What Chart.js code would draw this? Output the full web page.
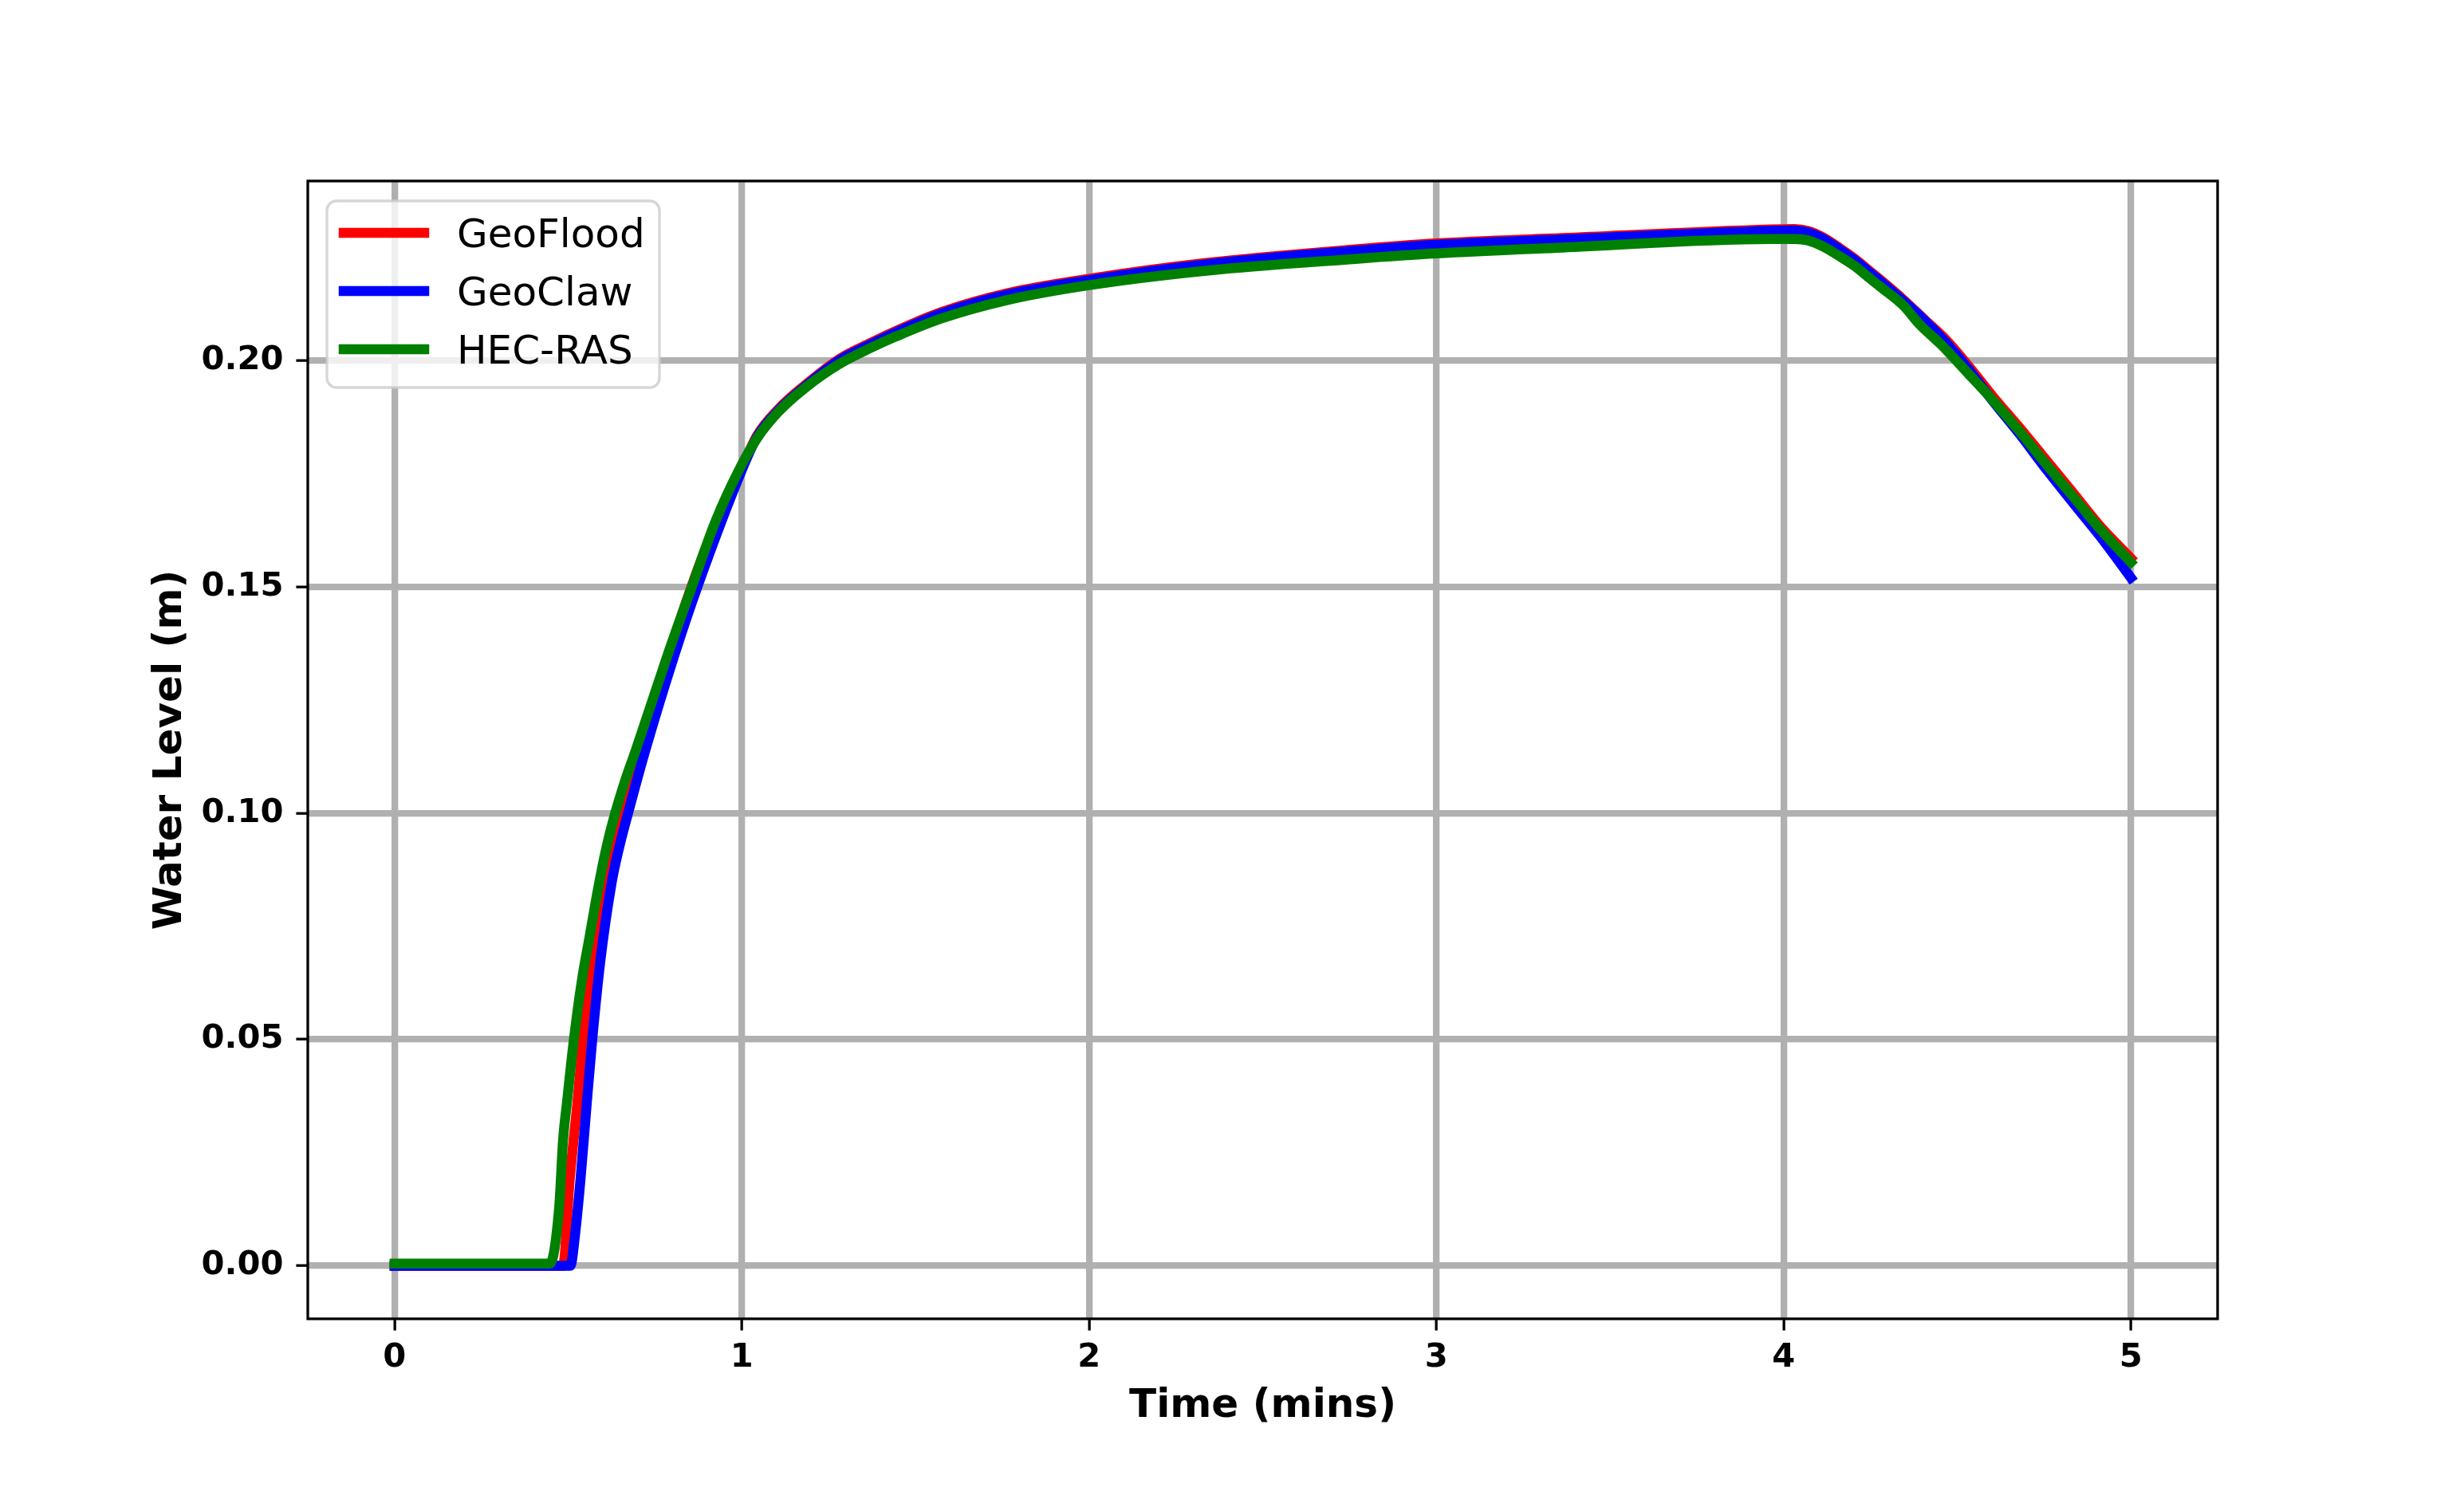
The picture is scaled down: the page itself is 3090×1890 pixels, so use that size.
<!DOCTYPE html>
<html>
<head>
<meta charset="utf-8">
<script src="https://cdn.jsdelivr.net/npm/chart.js@4.4.0/dist/chart.umd.min.js"></script>
<style>
  html, body { margin: 0; padding: 0; background: #fff; }
  canvas { display: block; }
</style>
</head>
<body>
<canvas id="myChart" width="3090" height="1890"></canvas>
<script>
// series names + colours
var seriesNames = ['GeoFlood', 'GeoClaw', 'HEC-RAS'];
var seriesColors = ['#ff0000', '#0000ff', '#008000'];

// GeoFlood
var timeGeoFlood = [0, 0.485, 0.504, 0.527, 0.5425, 0.5655, 0.607, 0.6497, 0.70, 0.79, 0.855, 0.925, 1.0, 1.044, 1.105, 1.182, 1.281, 1.373, 1.442, 1.573, 1.764, 2.0, 2.338, 2.767, 3.0, 3.364, 3.962, 4.031, 4.069, 4.115, 4.161, 4.207, 4.245, 4.283, 4.345, 4.406, 4.467, 4.528, 4.605, 4.681, 4.758, 4.835, 4.911, 5.0];
var levelGeoFlood = [0, 0, 0.0188, 0.0365, 0.05, 0.067, 0.0846, 0.10, 0.114, 0.1352, 0.15, 0.1640, 0.1762, 0.1834, 0.1892, 0.1945, 0.2003, 0.2039, 0.2064, 0.2106, 0.2148, 0.2180, 0.2215, 0.2245, 0.2258, 0.2270, 0.2289, 0.2290, 0.2286, 0.2271, 0.2248, 0.2223, 0.2199, 0.2175, 0.2134, 0.2090, 0.2046, 0.1992, 0.1918, 0.1850, 0.1778, 0.1706, 0.1634, 0.1563];

// GeoClaw
var timeGeoClaw = [0, 0.506, 0.520, 0.535, 0.554, 0.569, 0.592, 0.625, 0.647, 0.672, 0.7225, 0.807, 0.872, 1.0, 1.044, 1.105, 1.182, 1.281, 1.373, 1.442, 1.573, 1.764, 2.0, 2.338, 2.767, 3.0, 3.364, 3.962, 4.031, 4.069, 4.115, 4.161, 4.207, 4.245, 4.283, 4.345, 4.406, 4.467, 4.528, 4.605, 4.681, 4.758, 4.835, 4.911, 4.957, 5.0];
var levelGeoClaw = [0, 0, 0.0071, 0.0188, 0.0365, 0.0498, 0.067, 0.0846, 0.0925, 0.0999, 0.114, 0.1352, 0.1500, 0.1758, 0.1831, 0.1889, 0.1942, 0.2000, 0.2036, 0.2061, 0.2103, 0.2145, 0.2177, 0.2212, 0.2242, 0.2255, 0.2267, 0.2286, 0.2287, 0.2283, 0.2268, 0.2245, 0.2220, 0.2196, 0.2172, 0.2131, 0.2088, 0.2040, 0.1985, 0.1908, 0.1836, 0.1758, 0.1684, 0.1612, 0.1565, 0.1520];

// HEC-RAS
var timeHecRas = [0, 0.447, 0.474, 0.485, 0.497, 0.516, 0.539, 0.562, 0.585, 0.608, 0.635, 0.661, 0.695, 0.7875, 0.856, 0.925, 0.990, 1.044, 1.105, 1.182, 1.281, 1.373, 1.442, 1.573, 1.764, 2.0, 2.338, 2.767, 3.0, 3.364, 3.962, 4.031, 4.069, 4.115, 4.161, 4.207, 4.245, 4.283, 4.345, 4.391, 4.452, 4.528, 4.605, 4.681, 4.758, 4.835, 4.911, 5.0];
var levelHecRas = [0.0005, 0.0005, 0.013, 0.0276, 0.0365, 0.0498, 0.0629, 0.0729, 0.0829, 0.0917, 0.0999, 0.1065, 0.1140, 0.1352, 0.1500, 0.1646, 0.1755, 0.1828, 0.1886, 0.1939, 0.1992, 0.2028, 0.2052, 0.2092, 0.2133, 0.2166, 0.2198, 0.2224, 0.2236, 0.2249, 0.2268, 0.2268, 0.2265, 0.2251, 0.2230, 0.2207, 0.2183, 0.2160, 0.2121, 0.2080, 0.2036, 0.1974, 0.1910, 0.1842, 0.1769, 0.1698, 0.1628, 0.1554];

// tick labels
var xTicks = [0, 1, 2, 3, 4, 5];
var yTicks = [0.00, 0.05, 0.10, 0.15, 0.20];

function toPoints(ts, vs) {
    return ts.map(function (t, i) { return { x: t, y: vs[i] }; });
}

var allTimes = [timeGeoFlood, timeGeoClaw, timeHecRas];
var allLevels = [levelGeoFlood, levelGeoClaw, levelHecRas];

var datasets = seriesNames.map(function (name, i) {
    return {
        label: name,
        data: toPoints(allTimes[i], allLevels[i]),
        borderColor: seriesColors[i],
        backgroundColor: seriesColors[i],
        borderWidth: 12.5,
        borderJoinStyle: 'round',
        borderCapStyle: 'square',
        pointRadius: 0,
        cubicInterpolationMode: 'monotone',
        fill: false,
        order: 3 - i
    };
});

var tickFont = { family: 'DejaVu Sans', size: 41.67, weight: 'bold' };
var titleFont = { family: 'DejaVu Sans', size: 50, weight: 'bold' };

// frame (all four spines) like matplotlib
var framePlugin = {
    id: 'frame',
    afterDatasetsDraw: function (chart) {
        var a = chart.chartArea, c = chart.ctx;
        c.save();
        c.strokeStyle = '#000';
        c.lineWidth = 3.3;
        c.strokeRect(a.left, a.top, a.right - a.left, a.bottom - a.top);
        c.restore();
    }
};

// legend box inside the axes, upper left
var boxLegend = {
    id: 'boxLegend',
    afterDraw: function (chart) {
        var c = chart.ctx;
        var x = 410, y = 252, w = 417, h = 234, r = 12;
        c.save();
        c.beginPath();
        c.roundRect(x, y, w, h, r);
        c.fillStyle = 'rgba(255,255,255,0.8)';
        c.fill();
        c.strokeStyle = 'rgba(204,204,204,0.8)';
        c.lineWidth = 3.3;
        c.stroke();
        c.font = '50px "DejaVu Sans"';
        c.textBaseline = 'alphabetic';
        c.textAlign = 'left';
        chart.data.datasets.forEach(function (ds, i) {
            var ly = 292 + i * 73;
            c.beginPath();
            c.moveTo(431, ly);
            c.lineTo(532, ly);
            c.strokeStyle = ds.borderColor;
            c.lineWidth = 12.5;
            c.lineCap = 'square';
            c.stroke();
            c.fillStyle = '#000';
            c.fillText(ds.label, 573, ly + 18.2);
        });
        c.restore();
    }
};

var ctx = document.getElementById('myChart').getContext('2d');
var myChart = new Chart(ctx, {
    type: 'line',
    data: { datasets: datasets },
    options: {
        responsive: false,
        animation: false,
        devicePixelRatio: 1,
        layout: { padding: { left: 0, right: 309, top: 227, bottom: 0 } },
        plugins: { legend: { display: false }, tooltip: { enabled: false } },
        scales: {
            x: {
                type: 'linear',
                min: -0.25,
                max: 5.25,
                afterBuildTicks: function (s) { s.ticks = xTicks.map(function (v) { return { value: v }; }); },
                afterFit: function (s) { s.height = 236; },
                grid: { color: '#b0b0b0', lineWidth: 8.3, tickLength: 14.6, tickColor: '#000', tickWidth: 3.3 },
                border: { display: false },
                ticks: { color: '#000', font: tickFont, padding: 10, maxRotation: 0, callback: function (v) { return String(v); } },
                title: { display: true, text: 'Time (mins)', color: '#000', font: titleFont, padding: { top: 0, bottom: 96 } }
            },
            y: {
                type: 'linear',
                min: -0.0117,
                max: 0.2396,
                afterBuildTicks: function (s) { s.ticks = yTicks.map(function (v) { return { value: v }; }); },
                afterFit: function (s) { s.width = 386; },
                grid: { color: '#b0b0b0', lineWidth: 8.3, tickLength: 14.6, tickColor: '#000', tickWidth: 3.3 },
                border: { display: false },
                ticks: { color: '#000', font: tickFont, padding: 16, callback: function (v) { return v.toFixed(2); } },
                title: { display: true, text: 'Water Level (m)', color: '#000', font: titleFont, padding: { top: 184, bottom: 0 } }
            }
        }
    },
    plugins: [framePlugin, boxLegend]
});
</script>
</body>
</html>
